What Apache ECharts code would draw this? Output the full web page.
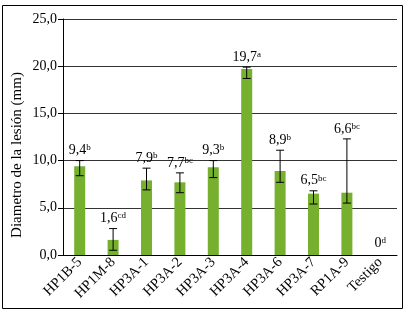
<!DOCTYPE html>
<html>
<head>
<meta charset="utf-8">
<script src="https://cdn.jsdelivr.net/npm/echarts@6/dist/echarts.min.js"></script>
<style>html,body{margin:0;padding:0;background:#fff;}#c{width:407px;height:314px;}</style>
</head>
<body>
<div id="c"></div>
<script>
var categories = ['HP1B-5','HP1M-8','HP3A-1','HP3A-2','HP3A-3','HP3A-4','HP3A-6','HP3A-7','RP1A-9','Testigo'];
var values = [9.4, 1.6, 7.9, 7.7, 9.3, 19.7, 8.9, 6.5, 6.6, 0];
var errLow = [8.4, 0.5, 6.9, 6.6, 8.2, 18.7, 7.7, 5.4, 5.5, null];
var errHigh = [10.0, 2.8, 9.2, 8.7, 10.0, 19.9, 11.1, 6.8, 12.3, null];
var valueLabels = ['9,4','1,6','7,9','7,7','9,3','19,7','8,9','6,5','6,6','0'];
var letters = ['b','cd','b','bc','b','a','b','bc','bc','d'];
var yTicks = ['0,0','5,0','10,0','15,0','20,0','25,0'];

var FONT = '"Liberation Serif", "Times New Roman", serif';
var chart = echarts.init(document.getElementById('c'), null, {renderer:'canvas'});

var errData = categories.map(function(c, i){
  return [i, values[i], errLow[i] == null ? values[i] : errLow[i], errHigh[i] == null ? values[i] : errHigh[i], errLow[i] == null ? 0 : 1];
});

chart.setOption({
  animation: false,
  grid: {left: 63, right: 10, top: 19, bottom: 59},
  graphic: [
    {type:'rect', shape:{x:2.5, y:5.5, width:400, height:303}, style:{fill:'none', stroke:'#000', lineWidth:1}, silent:true},
    {type:'text', x:17, y:155, rotation:Math.PI/2, style:{text:'Diametro de la lesión (mm)', font:'15px "Liberation Serif"', fill:'#000', align:'center', verticalAlign:'middle'}}
  ],
  xAxis: {
    type:'category', data: categories,
    axisLine:{lineStyle:{color:'#000', width:1}},
    axisTick:{show:false},
    axisLabel:{rotate:45, fontFamily:FONT, fontSize:14.5, color:'#000', margin:5, interval:0}
  },
  yAxis: {
    type:'value', min:0, max:25, interval:5,
    axisLine:{show:true, lineStyle:{color:'#000', width:1}},
    axisTick:{show:true, inside:false, length:5, lineStyle:{color:'#000'}},
    splitLine:{show:true, lineStyle:{color:'#333', width:1}},
    axisLabel:{fontFamily:FONT, fontSize:14, color:'#000', margin:6, formatter:function(v){ return yTicks[Math.round(v/5)]; }}
  },
  series: [
    {type:'bar', data: values, barWidth: 11, itemStyle:{color:'#76b02e'}, z:2},
    {type:'custom', z:5, data: errData,
     renderItem: function(params, api){
       var x = api.coord([api.value(0), 0])[0];
       var pLow = api.coord([api.value(0), api.value(2)]);
       var pHigh = api.coord([api.value(0), api.value(3)]);
       var has = api.value(4) === 1;
       var i = params.dataIndex;
       var children = [];
       var hw = 4;
       if (has) {
         var st = {stroke:'#000', lineWidth:1};
         children.push({type:'line', shape:{x1:x, y1:pLow[1], x2:x, y2:pHigh[1]}, style:st});
         children.push({type:'line', shape:{x1:x-hw, y1:pLow[1], x2:x+hw, y2:pLow[1]}, style:st});
         children.push({type:'line', shape:{x1:x-hw, y1:pHigh[1], x2:x+hw, y2:pHigh[1]}, style:st});
       }
       children.push({type:'text', x: x, y: pHigh[1] - (has ? 3 : 5),
         style:{
           text:'{v|' + valueLabels[i] + '}{s|' + letters[i] + '}',
           align:'center', verticalAlign:'bottom',
           rich:{
             v:{fontFamily:FONT, fontSize:14, fill:'#000', verticalAlign:'bottom'},
             s:{fontFamily:FONT, fontSize:9, fill:'#000', verticalAlign:'top'}
           }
         }});
       return {type:'group', children:children};
     }
    }
  ]
});
</script>
</body>
</html>
